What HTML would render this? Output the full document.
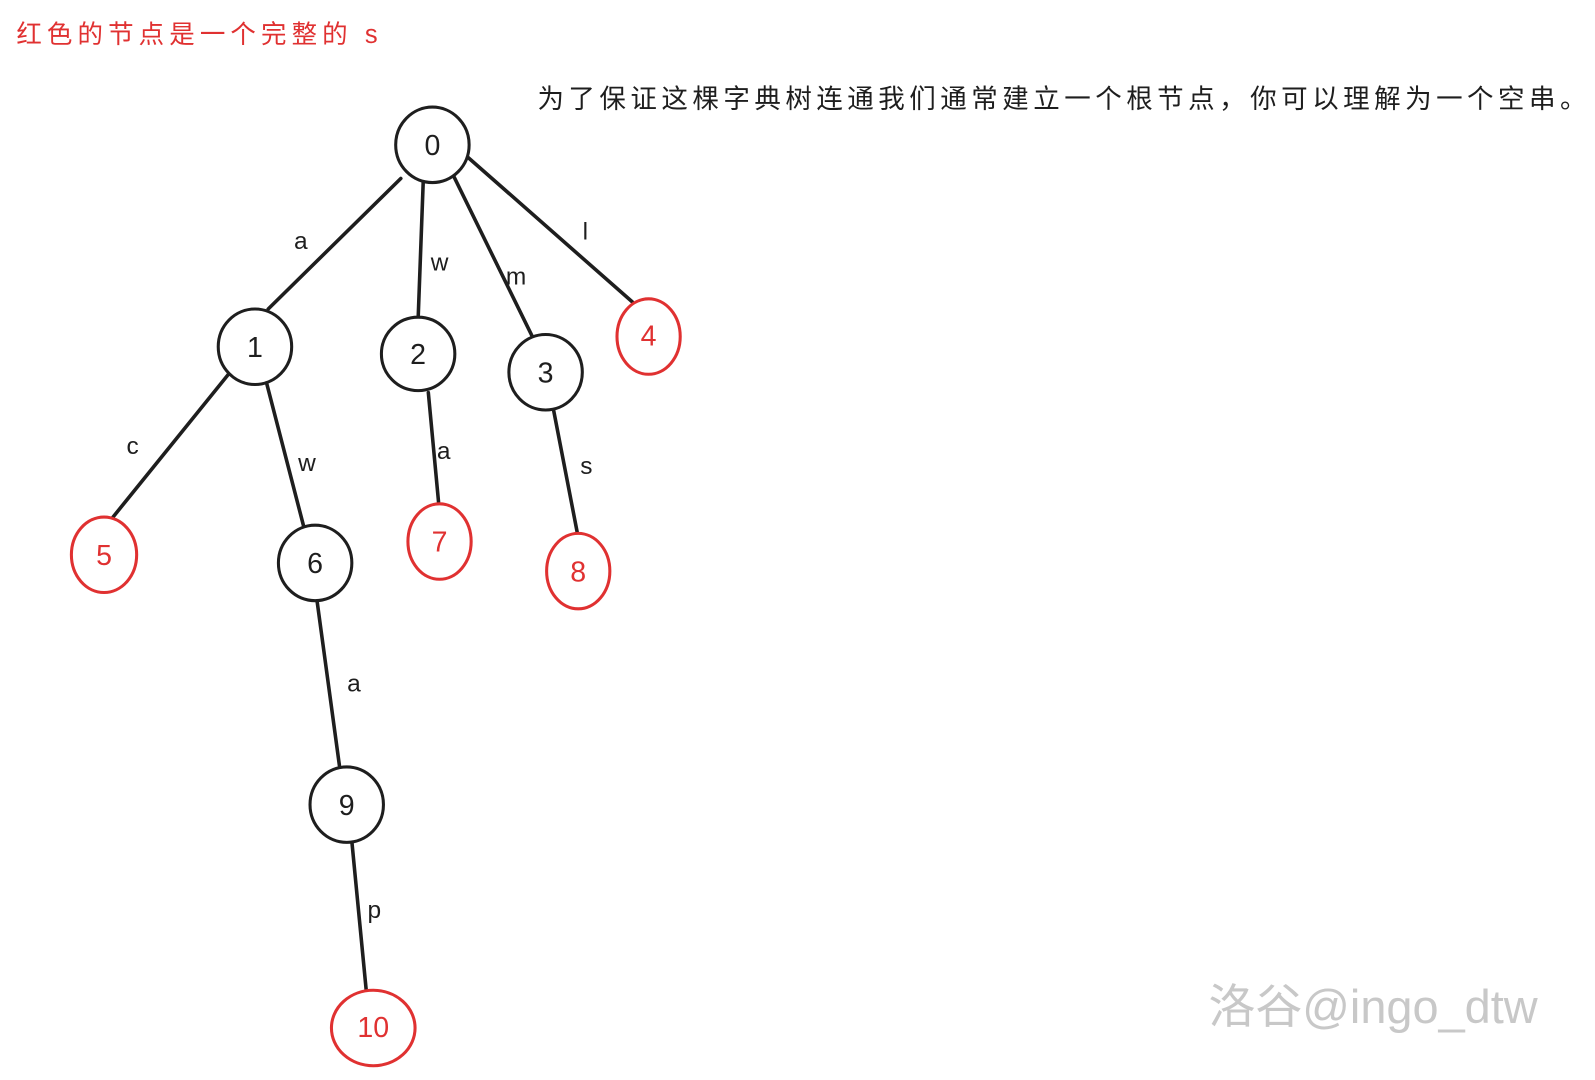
<!DOCTYPE html>
<html><head><meta charset="utf-8"><style>
html,body{margin:0;padding:0;background:#fff;width:1595px;height:1080px;overflow:hidden}
svg{display:block}
</style></head><body>
<svg width="1595" height="1080" viewBox="0 0 1564 1059" xmlns="http://www.w3.org/2000/svg" font-family="Liberation Sans, Noto Sans CJK SC, sans-serif">
<text x="16" y="42" font-size="25" letter-spacing="5" fill="#e03131" font-family="Liberation Sans, Noto Sans CJK SC, sans-serif">红色的节点是一个完整的 s</text>
<text x="527" y="106" font-size="26" letter-spacing="4.4" fill="#1e1e1e" font-family="Liberation Sans, Noto Sans CJK SC, sans-serif">为了保证这棵字典树连通我们通常建立一个根节点，你可以理解为一个空串。</text>
<g stroke="#1e1e1e" stroke-width="3.5" stroke-linecap="round" fill="none">
<line x1="393" y1="175" x2="263" y2="303"/>
<line x1="415" y1="178" x2="410" y2="313"/>
<line x1="445" y1="173" x2="522" y2="330"/>
<line x1="454" y1="150" x2="620" y2="296"/>
<line x1="224" y1="367" x2="110" y2="508"/>
<line x1="261" y1="374" x2="298" y2="517"/>
<line x1="420" y1="385" x2="430" y2="492"/>
<line x1="543" y1="403" x2="566" y2="522"/>
<line x1="311" y1="590" x2="333" y2="752"/>
<line x1="345" y1="825" x2="359" y2="970"/>
</g>
<g stroke-width="3" fill="#fff">
<ellipse cx="424" cy="142" rx="36" ry="37" stroke="#1e1e1e"/>
<ellipse cx="250" cy="340" rx="36" ry="37" stroke="#1e1e1e"/>
<ellipse cx="410" cy="347" rx="36" ry="36" stroke="#1e1e1e"/>
<ellipse cx="535" cy="365" rx="36" ry="37" stroke="#1e1e1e"/>
<ellipse cx="309" cy="552" rx="36" ry="37" stroke="#1e1e1e"/>
<ellipse cx="340" cy="789" rx="36" ry="37" stroke="#1e1e1e"/>
<ellipse cx="636" cy="330" rx="31" ry="37" stroke="#e03131"/>
<ellipse cx="102" cy="544" rx="32" ry="37" stroke="#e03131"/>
<ellipse cx="431" cy="531" rx="31" ry="37" stroke="#e03131"/>
<ellipse cx="567" cy="560" rx="31" ry="37" stroke="#e03131"/>
<ellipse cx="366" cy="1008" rx="41" ry="37" stroke="#e03131"/>
</g>
<g font-size="28" text-anchor="middle" fill="#1e1e1e">
<text x="424" y="152">0</text><text x="250" y="350">1</text><text x="410" y="357">2</text>
<text x="535" y="375">3</text><text x="309" y="562">6</text><text x="340" y="799">9</text>
<g fill="#e03131"><text x="636" y="339">4</text><text x="102" y="554">5</text><text x="431" y="541">7</text>
<text x="567" y="570">8</text><text x="366" y="1017">10</text></g>
</g>
<g font-size="24" fill="#1e1e1e" text-anchor="middle">
<text x="295" y="244">a</text><text x="431" y="265">w</text><text x="506" y="279">m</text>
<text x="574" y="235">l</text><text x="130" y="445">c</text><text x="301" y="462">w</text>
<text x="435" y="450">a</text><text x="575" y="465">s</text><text x="347" y="678">a</text>
<text x="367" y="900">p</text>
</g>
<text x="1185" y="1003" font-size="46" fill="#c8c8c8" font-family="Liberation Sans, Noto Sans CJK SC, sans-serif">洛谷@ingo_dtw</text>
</svg>
</body></html>
